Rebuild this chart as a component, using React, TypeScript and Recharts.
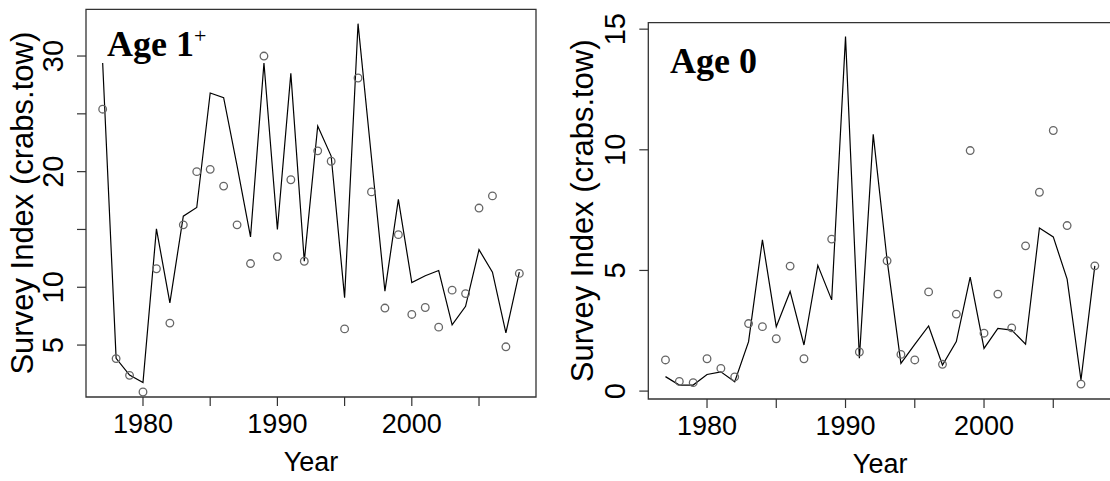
import {
  ComposedChart,
  Line,
  Scatter,
  XAxis,
  YAxis,
  ReferenceArea,
  Label,
} from 'recharts'

// survey years
const years = [
  1977, 1978, 1979, 1980, 1981, 1982, 1983, 1984, 1985, 1986, 1987, 1988, 1989, 1990, 1991, 1992,
  1993, 1994, 1995, 1996, 1997, 1998, 1999, 2000, 2001, 2002, 2003, 2004, 2005, 2006, 2007, 2008,
]

// Age 1+ : observed index (circles) and model fit (line)
const age1Observed = [
  25.4, 3.83, 2.38, 0.94, 11.6, 6.9, 15.4, 20.0, 20.2, 18.75, 15.4, 12.05, 30.0, 12.65, 19.3, 12.25,
  21.8, 20.9, 6.4, 28.1, 18.25, 8.2, 14.55, 7.65, 8.25, 6.55, 9.75, 9.45, 16.85, 17.9, 4.85, 11.2,
]
const age1Fitted = [
  29.4, 3.85, 2.4, 1.75, 15.05, 8.65, 16.15, 16.9, 26.8, 26.4, 20.5, 14.35, 29.4, 15.0, 28.5, 12.25,
  23.95, 21.35, 9.1, 32.8, 21.2, 9.66, 17.6, 10.4, 11.0, 11.45, 6.75, 8.35, 13.25, 11.3, 6.05, 11.3,
]

// Age 0 : observed (no survey value in 1988, 1990, 1992) and fit
const age0Observed: (number | null)[] = [
  1.29, 0.4, 0.35, 1.34, 0.94, 0.59, 2.8, 2.67, 2.17, 5.18, 1.34, null, 6.3, null, 1.62, null,
  5.4, 1.52, 1.29, 4.11, 1.11, 3.19, 9.97, 2.4, 4.02, 2.62, 6.02, 8.24, 10.8, 6.86, 0.29, 5.19,
]
const age0Fitted = [
  0.6, 0.25, 0.25, 0.69, 0.8, 0.39, 2.05, 6.27, 2.67, 4.13, 1.91, 5.21, 3.78, 14.69, 1.36, 10.64,
  5.44, 1.15, 1.94, 2.7, 1.08, 2.05, 4.72, 1.77, 2.6, 2.53, 1.94, 6.76, 6.39, 4.64, 0.46, 5.19,
]

const xTicks = [1980, 1985, 1990, 1995, 2000, 2005]
const xTickLabels = [1980, 1990, 2000]
const age1YTicks = [5, 10, 15, 20, 25, 30]
const age1YTickLabels = [5, 10, 20, 30]
const age0YTicks = [0, 5, 10, 15]
const age0YTickLabels = [0, 5, 10, 15]

const SANS = '"Liberation Sans", Arial, sans-serif'
const SERIF = '"Liberation Serif", "Times New Roman", serif'

// R style 4% padding around the data range
const padded = (vals: number[]): [number, number] => {
  const lo = Math.min(...vals)
  const hi = Math.max(...vals)
  const p = (hi - lo) * 0.04
  return [lo - p, hi + p]
}

const xDomain = padded(years)

const XTick = ({ x, y, payload, shown }: any) => {
  if (!shown.includes(payload.value)) return <g />
  return (
    <text x={x} y={y + 25} textAnchor="middle" fontFamily={SANS} fontSize={27} fill="#000">
      {payload.value}
    </text>
  )
}

// the source image is a bit stretched vertically, so rotated text runs longer
const YTick = ({ x, y, payload, shown }: any) => {
  if (!shown.includes(payload.value)) return <g />
  const bx = x - 12
  return (
    <text
      x={bx}
      y={y}
      transform={`rotate(-90 ${bx} ${y})`}
      textAnchor="middle"
      fontFamily={SANS}
      fontSize={29}
      fill="#000"
    >
      {payload.value}
    </text>
  )
}

const YTitle = (props: any) => {
  const vb = props.viewBox
  if (!vb) return null
  const bx = vb.x + 33
  const cy = vb.y + vb.height / 2
  return (
    <text
      x={bx}
      y={cy}
      transform={`rotate(-90 ${bx} ${cy})`}
      textAnchor="middle"
      fontFamily={SANS}
      fontSize={31}
      fill="#000"
    >
      Survey Index (crabs.tow)
    </text>
  )
}

const XTitle = (props: any) => {
  const vb = props.viewBox
  if (!vb) return null
  return (
    <text
      x={vb.x + vb.width / 2}
      y={vb.y + 74}
      textAnchor="middle"
      fontFamily={SANS}
      fontSize={27}
      fill="#000"
    >
      Year
    </text>
  )
}

const OpenCircle = (p: any) => (
  <circle cx={p.cx} cy={p.cy} r={3.8} fill="none" stroke="#666" strokeWidth={1.3} />
)

interface PanelProps {
  left: number
  width: number
  top: number
  right: number
  yAxisWidth: number
  xAxisHeight: number
  observed: (number | null)[]
  fitted: number[]
  yTicks: number[]
  yTickLabels: number[]
}

function Panel({ left, width, top, right, yAxisWidth, xAxisHeight, observed, fitted, yTicks, yTickLabels }: PanelProps) {
  const rows = years.map((year, i) => ({ year, fit: fitted[i], obs: observed[i] }))
  const obsRows = rows.filter((r) => r.obs != null)
  const yDomain = padded(fitted)

  return (
    <div style={{ position: 'absolute', left, top: 0 }}>
      <ComposedChart width={width} height={481} data={rows} margin={{ top, right, bottom: 0, left: 0 }}>
        <XAxis
          dataKey="year"
          type="number"
          domain={xDomain}
          allowDataOverflow
          ticks={xTicks}
          interval={0}
          height={xAxisHeight}
          axisLine={false}
          tickSize={9}
          tickMargin={2}
          tickLine={{ stroke: '#333', strokeWidth: 1.2 }}
          tick={(p: any) => <XTick {...p} shown={xTickLabels} />}
        >
          <Label content={<XTitle />} />
        </XAxis>
        <YAxis
          type="number"
          domain={yDomain}
          allowDataOverflow
          ticks={yTicks}
          interval={0}
          width={yAxisWidth}
          axisLine={false}
          tickSize={9}
          tickMargin={2}
          tickLine={{ stroke: '#333', strokeWidth: 1.2 }}
          tick={(p: any) => <YTick {...p} shown={yTickLabels} />}
        >
          <Label content={<YTitle />} />
        </YAxis>
        <ReferenceArea
          x1={xDomain[0]}
          x2={xDomain[1]}
          y1={yDomain[0]}
          y2={yDomain[1]}
          fill="none"
          stroke="#333"
          strokeWidth={1.3}
        />
        <Scatter data={obsRows} dataKey="obs" shape={OpenCircle} isAnimationActive={false} />
        <Line
          type="linear"
          dataKey="fit"
          stroke="#000"
          strokeWidth={1.2}
          dot={false}
          activeDot={false}
          isAnimationActive={false}
        />
      </ComposedChart>
    </div>
  )
}

export default function App() {
  return (
    <div
      style={{
        position: 'absolute',
        left: 0,
        top: 0,
        width: 1110,
        height: 481,
        overflow: 'hidden',
        background: '#fff',
      }}
    >
      <Panel
        left={0}
        width={560}
        top={9.3}
        right={24}
        yAxisWidth={86}
        xAxisHeight={84}
        observed={age1Observed}
        fitted={age1Fitted}
        yTicks={age1YTicks}
        yTickLabels={age1YTickLabels}
      />
      <Panel
        left={560}
        width={560}
        top={22.7}
        right={8}
        yAxisWidth={88.3}
        xAxisHeight={82}
        observed={age0Observed}
        fitted={age0Fitted}
        yTicks={age0YTicks}
        yTickLabels={age0YTickLabels}
      />
      <svg
        width={1110}
        height={481}
        style={{ position: 'absolute', left: 0, top: 0, pointerEvents: 'none' }}
      >
        <text x={107} y={56} fontFamily={SERIF} fontWeight="bold" fontSize={36} fill="#000">
          Age 1
          <tspan fontSize={22} fontWeight="normal" dy={-13}>+</tspan>
        </text>
        <text x={670} y={73} fontFamily={SERIF} fontWeight="bold" fontSize={36} fill="#000">
          Age 0
        </text>
      </svg>
    </div>
  )
}
